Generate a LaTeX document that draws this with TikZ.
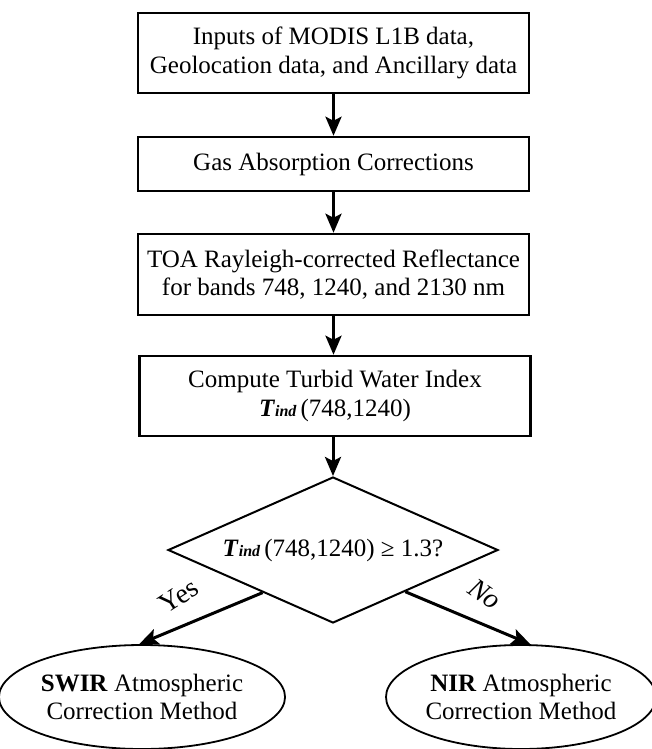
\documentclass[tikz,border=0pt]{standalone}
\usepackage{fontspec}
\setmainfont{Liberation Serif}
\usetikzlibrary{shapes.geometric,arrows.meta,calc}
\begin{document}
\begin{tikzpicture}[x=1pt,y=-1pt,
  every node/.style={font=\fontsize{25}{28.5}\selectfont},
  procbox/.style={draw,line width=2.5pt,fill=white,minimum width=391pt,inner sep=0pt,align=center},
  decis/.style={draw,diamond,line width=2pt,aspect=2.26,minimum width=330pt,minimum height=146pt,inner sep=0pt},
  outcome/.style={draw,ellipse,line width=1.8pt,minimum width=268pt,minimum height=104pt,inner sep=0pt,align=center},
  flow/.style={line width=3pt,-{Stealth[length=19pt,width=16pt,inset=4pt]}},
  lbl/.style={font=\fontsize{28}{30}\selectfont}
]
\useasboundingbox (0,0) rectangle (651,749);
\newcommand{\tind}{\textbf{\textit{T}}{\fontsize{16}{16}\selectfont\bfseries\itshape ind}}
\node[procbox,minimum height=80pt] (b1) at (333.5,53) {Inputs of MODIS L1B data,\\Geolocation data, and Ancillary data};
\node[procbox,minimum height=54pt] (b2) at (333.5,164) {Gas Absorption Corrections};
\node[procbox,minimum height=81pt] (b3) at (333.5,274.5) {TOA Rayleigh-corrected Reflectance\\for bands 748, 1240, and 2130 nm};
\node[procbox,minimum height=80pt] (b4) at (335,396) {Compute Turbid Water Index\\\tind\,(748,1240)};
\node[decis] (d) at (333,550) {\tind\,(748,1240) ≥ 1.3?};
\node[outcome] (s) at (142,697) {\textbf{SWIR} Atmospheric\\Correction Method};
\node[outcome,minimum width=256pt] (n) at (521,697) {\textbf{NIR} Atmospheric\\Correction Method};
\coordinate (dl) at ($(d.west)!0.576!(d.south)$);
\coordinate (dr) at ($(d.south)!0.436!(d.east)$);
\draw[flow] (b1.south) -- (b2.north);
\draw[flow] (b2.south) -- (b3.north);
\draw[flow] (b3.south) -- ($(b4.north)+(-1.5,0)$);
\draw[flow] ($(b4.south)+(-2,0)$) -- (d.north);
\draw[flow] (dl) -- (s.93);
\draw[flow] (dr) -- (n.80);
\node[lbl,rotate=33] (yes) at (179,596) {Yes};
\node[lbl,rotate=-35] (no) at (485,594) {\textit{No}};
\end{tikzpicture}
\end{document}
